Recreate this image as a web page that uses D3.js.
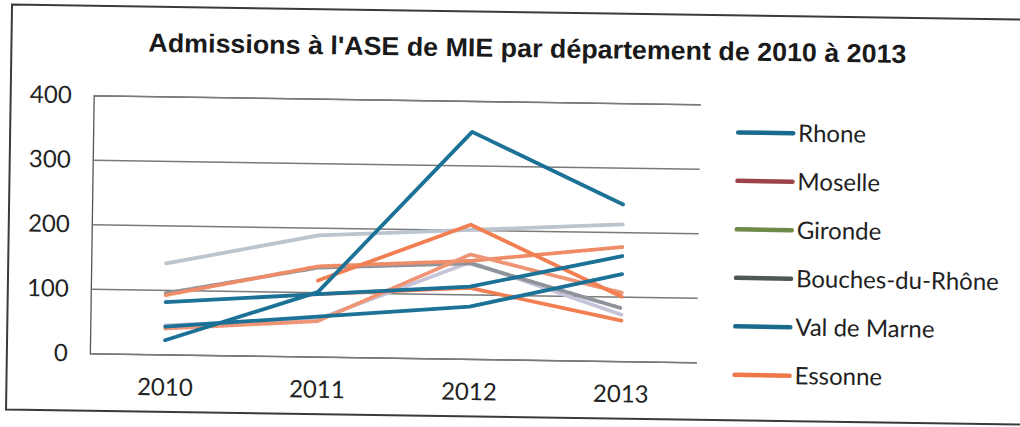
<!DOCTYPE html>
<html>
<head>
<meta charset="utf-8">
<script src="https://cdn.jsdelivr.net/npm/d3@7"></script>
<style>
  html, body { margin: 0; padding: 0; background: #fff; }
  svg { display: block; }
</style>
</head>
<body>
<svg id="chart" width="1020" height="427"></svg>
<script>
// values (approximate)
const years = ['2010', '2011', '2012', '2013'];
const yTicks = [0, 100, 200, 300, 400];

const rhone = [22, 100, 352, 243];
const moselle = [92, 140, 152, 177];
const gironde = [141, 188, 200, 212];
const bouchesDuRhone = [95, 138, 148, 82];
const valDeMarne = [81, 97, 112, 163];
const essonne = [null, 118, 208, 100];
// more lines are drawn than the (truncated) legend shows
const serie7 = [43, 62, 81, 135];
const serie8 = [45, 58, 150, 72];
const serie9 = [40, 55, 162, 106];
const serie10 = [null, 97, 110, 63];

const seriesNames = ['Rhone', 'Moselle', 'Gironde', 'Bouches-du-Rhône',
  'Val de Marne', 'Essonne', 'Série 7', 'Série 8', 'Série 9', 'Série 10'];
const seriesValues = [rhone, moselle, gironde, bouchesDuRhone, valDeMarne,
  essonne, serie7, serie8, serie9, serie10];
const legendNames = seriesNames.slice(0, 6);

const TITLE = "Admissions à l'ASE de MIE par département de 2010 à 2013";

// how the lines look in the scan, and the legend swatches
const lineStyle = {
  'Rhone':            { color: '#1c7196', dash: null },
  'Moselle':          { color: '#ee8c68', dash: '4 2' },
  'Gironde':          { color: '#bcc4ce', dash: null },
  'Bouches-du-Rhône': { color: '#8f949c', dash: '3 2' },
  'Val de Marne':     { color: '#1c7196', dash: null },
  'Essonne':          { color: '#f27f52', dash: null },
  'Série 7':          { color: '#1c7196', dash: null },
  'Série 8':          { color: '#c6c4d8', dash: null },
  'Série 9':          { color: '#ef9474', dash: '3 2' },
  'Série 10':         { color: '#f27f52', dash: null },
};
const legendColor = {
  'Rhone': '#1a6a8c', 'Moselle': '#9e4448', 'Gironde': '#6e8a4a',
  'Bouches-du-Rhône': '#4f5656', 'Val de Marne': '#1a6a8c', 'Essonne': '#f07848',
};
const drawOrder = ['Gironde', 'Série 8', 'Bouches-du-Rhône', 'Moselle', 'Série 9',
  'Série 10', 'Essonne', 'Série 7', 'Val de Marne', 'Rhone'];

const FONT = 'Lato, "Open Sans", sans-serif';

const svg = d3.select('#chart');
// the scan is slightly tilted
const g = svg.append('g').attr('transform', 'rotate(0.85, 510, 213)');

// outer frame
g.append('path')
  .attr('d', 'M1030,12 L9,12 L9,417 L1030,417')
  .attr('fill', 'none')
  .attr('stroke', '#3a3a3a')
  .attr('stroke-width', 2);

g.append('text')
  .attr('x', 525)
  .attr('y', 57)
  .attr('text-anchor', 'middle')
  .attr('font-family', '"Liberation Sans Narrow", "Arial Narrow", "Liberation Sans", sans-serif')
  .attr('font-weight', 'bold')
  .attr('font-size', 26)
  .attr('textLength', 758)
  .attr('lengthAdjust', 'spacingAndGlyphs')
  .attr('fill', '#1a1a1a')
  .text(TITLE);

const x = d3.scalePoint()
  .domain(years)
  .range([91, 699])
  .padding(0.5);

const y = d3.scaleLinear()
  .domain([0, 400])
  .range([359.5, 101.5]);

// gridlines and value axis
const yAxis = d3.axisLeft(y)
  .tickValues(yTicks)
  .tickSize(-(699 - 92))
  .tickPadding(22);
g.append('g')
  .attr('transform', 'translate(92,0)')
  .call(yAxis)
  .call(a => a.select('.domain').attr('stroke', '#555').attr('stroke-width', 1.3))
  .call(a => a.selectAll('.tick line').attr('stroke', '#7a7a7a').attr('stroke-width', 1.4))
  .call(a => a.selectAll('.tick text')
    .attr('font-family', FONT)
    .attr('font-size', 24)
    .attr('fill', '#222'));

const xAxis = d3.axisBottom(x).tickSize(0).tickPadding(24);
g.append('g')
  .attr('transform', 'translate(0,359.5)')
  .call(xAxis)
  .call(a => a.select('.domain').remove())
  .call(a => a.selectAll('.tick text')
    .attr('font-family', FONT)
    .attr('font-size', 24)
    .attr('fill', '#222'));

const line = d3.line()
  .defined(d => d[1] !== null)
  .x(d => x(d[0]))
  .y(d => y(d[1]));

const series = seriesNames.map((name, i) => ({
  name,
  points: years.map((yr, j) => [yr, seriesValues[i][j]]),
}));
series.sort((a, b) => drawOrder.indexOf(a.name) - drawOrder.indexOf(b.name));

g.append('g')
  .selectAll('path')
  .data(series)
  .join('path')
  .attr('fill', 'none')
  .attr('stroke', d => lineStyle[d.name].color)
  .attr('stroke-dasharray', d => lineStyle[d.name].dash)
  .attr('stroke-width', 3.8)
  .attr('stroke-linejoin', 'round')
  .attr('stroke-linecap', 'round')
  .attr('d', d => line(d.points));

// legend (only the first six series fit)
const legend = g.append('g')
  .selectAll('g')
  .data(legendNames)
  .join('g')
  .attr('transform', (d, i) => `translate(737,${129 + i * 48.5})`);

legend.append('line')
  .attr('x1', 0)
  .attr('x2', 55)
  .attr('stroke', d => legendColor[d])
  .attr('stroke-width', 4.5)
  .attr('stroke-linecap', 'round');

legend.append('text')
  .attr('x', 60)
  .attr('dy', '0.35em')
  .attr('font-family', FONT)
  .attr('font-size', 24)
  .attr('fill', '#222')
  .text(d => d);
</script>
</body>
</html>
